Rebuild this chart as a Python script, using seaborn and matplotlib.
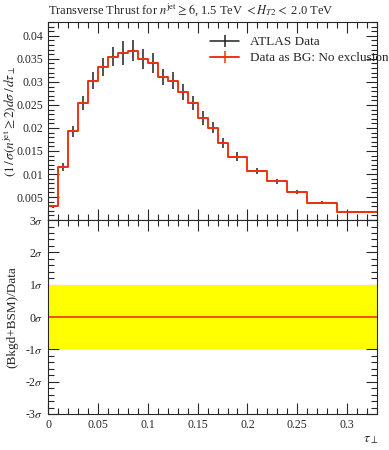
import numpy as np
import pandas as pd
import matplotlib
matplotlib.use('Agg')
import matplotlib.pyplot as plt
from matplotlib.lines import Line2D
from matplotlib.ticker import MultipleLocator, FuncFormatter
import seaborn as sns

edges = [0.00, 0.01, 0.02, 0.03, 0.04, 0.05, 0.06, 0.07, 0.08, 0.09, 0.10,
         0.11, 0.12, 0.13, 0.14, 0.15, 0.16, 0.17, 0.18, 0.20, 0.22, 0.24,
         0.26, 0.29, 0.33]
data_vals = [0.0030, 0.0115, 0.0193, 0.0254, 0.0303, 0.0332, 0.0355, 0.0362,
             0.0368, 0.0350, 0.0341, 0.0311, 0.0303, 0.0278, 0.0254, 0.0222,
             0.0200, 0.0167, 0.0138, 0.0107, 0.0084, 0.0061, 0.0038, 0.0017]
data_errs = [0.0003, 0.0009, 0.0012, 0.0016, 0.0018, 0.0020, 0.0021, 0.0026,
             0.0023, 0.0022, 0.0021, 0.0018, 0.0018, 0.0017, 0.0016, 0.0015,
             0.0012, 0.0011, 0.0009, 0.0007, 0.0005, 0.0005, 0.0003, 0.0002]
bg_vals = data_vals  # "Data as BG" is identical to data
ratio_vals = [0.0] * len(data_vals)

sns.set_style('ticks')
plt.rcParams['font.family'] = ['Liberation Serif', 'DejaVu Serif']
plt.rcParams['mathtext.fontset'] = 'stix'
plt.rcParams['font.size'] = 8.5

edges = np.array(edges)
centers = 0.5 * (edges[:-1] + edges[1:])
halfw = 0.5 * (edges[1:] - edges[:-1])

step_df = pd.DataFrame({'x': edges, 'y': list(bg_vals) + [bg_vals[-1]]})
ratio_df = pd.DataFrame({'x': edges, 'y': list(ratio_vals) + [ratio_vals[-1]]})

red = '#EE3311'
dark = '#222222'

fig = plt.figure(figsize=(3.89, 4.5), dpi=100)
ax1 = fig.add_axes([0.1234, 0.511, 0.846, 0.44])
ax2 = fig.add_axes([0.1234, 0.08, 0.846, 0.431])

# top panel
ax1.errorbar(centers, data_vals, yerr=data_errs, xerr=halfw, fmt='none',
             ecolor=dark, elinewidth=1.1, capsize=0)
sns.lineplot(data=step_df, x='x', y='y', drawstyle='steps-post', color=red,
             lw=1.4, ax=ax1, legend=False)
ax1.set_xlim(0, 0.33)
ax1.set_ylim(0, 0.043)
ax1.set_xlabel('')
ax1.set_ylabel(r'$(1\,/\,\sigma(n^{\mathrm{jet}} \geq 2) d\sigma\,/\,d\tau_{\perp}$', fontsize=9.5)
ax1.yaxis.set_label_coords(-0.09, 0.5)
ax1.set_title(r'Transverse Thrust for $n^{\mathrm{jet}} \geq 6$, 1.5 TeV $< H_{T2} <$ 2.0 TeV',
              loc='left', fontsize=9, pad=6, x=-0.0)
ax1.xaxis.set_major_locator(MultipleLocator(0.05))
ax1.xaxis.set_minor_locator(MultipleLocator(0.01))
ax1.yaxis.set_major_locator(MultipleLocator(0.005))
ax1.yaxis.set_minor_locator(MultipleLocator(0.001))
ax1.yaxis.set_major_formatter(FuncFormatter(lambda v, p: '' if abs(v) < 1e-9 else f'{v:g}'))
ax1.tick_params(labelbottom=False)
handles = [
    Line2D([], [], color=dark, lw=1.1, marker='|', markersize=9, markeredgewidth=1.1),
    Line2D([], [], color=red, lw=1.4, marker='|', markersize=9, markeredgewidth=1.1),
]
ax1.legend(handles, ['ATLAS Data', 'Data as BG: No exclusion'], loc='upper right',
           frameon=False, fontsize=9.5, bbox_to_anchor=(1.07, 0.99), handlelength=2.2,
           labelspacing=0.3)

# bottom panel
ax2.axhspan(-1, 1, color='#FFFF00', lw=0)
sns.lineplot(data=ratio_df, x='x', y='y', drawstyle='steps-post', color=red,
             lw=1.2, ax=ax2)
ax2.set_xlim(0, 0.33)
ax2.set_ylim(-3, 3)
ax2.set_xlabel(r'$\tau_{\perp}$', fontsize=10)
ax2.xaxis.set_label_coords(0.98, -0.1)
ax2.set_ylabel('(Bkgd+BSM)/Data', fontsize=9.5)
ax2.yaxis.set_label_coords(-0.09, 0.5)
ax2.xaxis.set_major_locator(MultipleLocator(0.05))
ax2.xaxis.set_minor_locator(MultipleLocator(0.01))
ax2.yaxis.set_major_locator(MultipleLocator(1))
ax2.yaxis.set_minor_locator(MultipleLocator(0.2))
ax2.yaxis.set_major_formatter(FuncFormatter(lambda v, p: f'{int(round(v))}$\\sigma$'))
ax2.xaxis.set_major_formatter(FuncFormatter(lambda v, p: '0' if abs(v) < 1e-9 else f'{v:g}'))

for ax in (ax1, ax2):
    ax.tick_params(which='both', direction='in', top=True, right=True, width=0.8, labelsize=8.5)
    ax.tick_params(which='major', length=8)
    ax.tick_params(which='minor', length=4)
    for s in ax.spines.values():
        s.set_linewidth(0.8)

fig.savefig('out.png', dpi=100)
